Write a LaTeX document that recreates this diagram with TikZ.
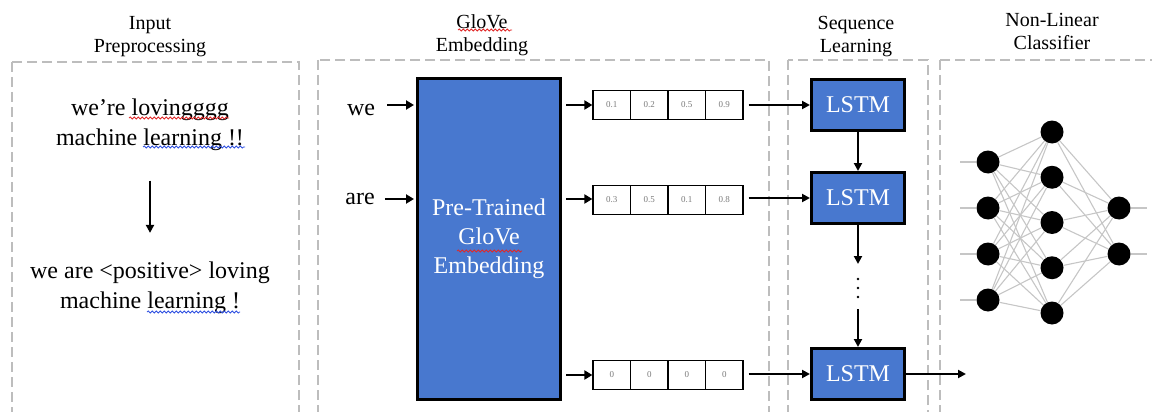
\documentclass[tikz,border=0pt]{standalone}
\usepackage{fontspec}
\setmainfont{Liberation Serif}
\usetikzlibrary{arrows.meta,decorations.pathmorphing}
\definecolor{boxblue}{HTML}{4878CF}
\definecolor{dashgray}{HTML}{BDBDBD}
\definecolor{nngray}{HTML}{C6C6C6}
\definecolor{valgray}{HTML}{7A7A7A}
\definecolor{squigred}{HTML}{E02828}
\definecolor{squigblue}{HTML}{2E4FE0}
\begin{document}
\begin{tikzpicture}[x=1pt,y=-1pt,
  panel/.style={draw=dashgray,line width=1.4pt,dash pattern=on 10pt off 5pt},
  title/.style={font=\fontsize{20}{23}\selectfont,align=center,inner sep=0pt},
  body/.style={font=\fontsize{24}{30}\selectfont,align=center,inner sep=0pt},
  word/.style={font=\fontsize{24}{30}\selectfont,inner sep=0pt},
  bigbox/.style={draw=black,line width=3pt,fill=boxblue,text=white,
    minimum width=143pt,minimum height=320pt,align=center,
    font=\fontsize{24}{29}\selectfont},
  lstm/.style={draw=black,line width=3pt,fill=boxblue,text=white,
    minimum width=93pt,minimum height=51pt,font=\fontsize{24}{29}\selectfont},
  cell/.style={draw=black,line width=1.2pt,minimum width=37.5pt,minimum height=29pt,
    inner sep=0pt,text=valgray,font=\fontsize{9}{10}\selectfont},
  inarrow/.style={line width=2.6pt,-{Triangle[length=8pt,width=9pt]}},
  midarrow/.style={line width=2pt,-{Triangle[length=8pt,width=8pt]}},
  neuron/.style={circle,fill=black,minimum size=23pt,inner sep=0pt},
  nnedge/.style={draw=nngray,line width=1.1pt},
  squig/.style={draw=#1,line width=0.8pt,decorate,
    decoration={snake,amplitude=1pt,segment length=4pt}}
]
\useasboundingbox (0,0) rectangle (1152,412);
\begin{scope}
\clip (0,0) rectangle (1152,412);
\draw[panel] (12,62) rectangle (299,440);
\draw[panel] (318,60) rectangle (769,440);
\draw[panel] (788,60) rectangle (928,440);
\draw[panel] (940,60) rectangle (1180,440);
\end{scope}

% titles
\node[title] (t1) at (150,37) {Input\\Preprocessing};
\node[title] (t2) at (482,35.6) {GloVe\\Embedding};
\node[title] (t3) at (856,37) {Sequence\\Learning};
\node[title] (t4) at (1052,31) {Non-Linear\\Classifier};

% preprocessing
\node[body] (src) at (150,124.5) {we’re lovingggg\\machine learning !!};
\node[body] (dst) at (150,288) {we are <positive> loving\\machine learning !};
\draw[midarrow,shorten <=30pt,shorten >=29pt] (src.south) -- (dst.north);

% rows
\coordinate (r1) at (0,105);
\coordinate (r2) at (0,199);
\coordinate (r3) at (0,375);

% embedding
\node[bigbox] (emb) at (489,239) {Pre-Trained\\GloVe\\Embedding};
\node[word,anchor=base] (we) at (361,116) {we};
\node[word,anchor=base] (are) at (360,204) {are};
\draw[inarrow,shorten <=12pt,shorten >=2pt] (we.east |- r1) -- (emb.west |- r1);
\draw[inarrow,shorten <=10pt,shorten >=2pt] (are.east |- r2) -- (emb.west |- r2);

% vectors
\foreach \r/\yy/\va/\vb/\vc/\vd in {1/105/0.1/0.2/0.5/0.9, 2/200/0.3/0.5/0.1/0.8, 3/375/0/0/0/0} {
  \foreach \vv [count=\i] in {\va,\vb,\vc,\vd}
    \node[cell] (v\r-\i) at (593+37.5*\i-18.75,\yy) {\vv};
}
\draw[inarrow,shorten <=4pt] (emb.east |- r1) -- (v1-1.west |- r1);
\draw[inarrow,shorten <=4pt] (emb.east |- r2) -- (v2-1.west |- r2);
\draw[inarrow,shorten <=4pt] (emb.east |- r3) -- (v3-1.west |- r3);

% LSTM
\node[lstm] (l1) at (858,105) {LSTM};
\node[lstm] (l2) at (858,198) {LSTM};
\node[lstm] (l3) at (858,374) {LSTM};
\draw[midarrow,shorten <=5pt] (v1-4.east |- l1) -- (l1.west);
\draw[midarrow,shorten <=5pt] (v2-4.east |- l2) -- (l2.west);
\draw[midarrow,shorten <=5pt] (v3-4.east |- l3) -- (l3.west);
\draw[midarrow] (l1.south) -- (l2.north);
\coordinate (dtop) at (858,264);
\coordinate (dbot) at (858,309);
\draw[midarrow] (l2.south) -- (dtop);
\draw[midarrow] (dbot) -- (l3.north);
\foreach \yy in {279,288,297} \fill (858,\yy) circle (1.3pt);
\coordinate (out) at (966,374);
\draw[midarrow] (l3.east) -- (out);

% neural network
\foreach \yy [count=\i] in {162,208,254,300} {
  \node[neuron] (in\i) at (988,\yy) {};
  \coordinate (s\i) at (960,\yy);
}
\foreach \yy [count=\i] in {132,177.25,222.5,267.75,313} \node[neuron] (h\i) at (1052,\yy) {};
\foreach \yy [count=\i] in {208,254} {
  \node[neuron] (o\i) at (1119,\yy) {};
  \coordinate (e\i) at (1147,\yy);
}
\foreach \i in {1,...,4} {
  \draw[nnedge] (s\i) -- (in\i);
  \foreach \j in {1,...,5} \draw[nnedge] (in\i) -- (h\j);
}
\foreach \j in {1,...,5} \foreach \k in {1,2} \draw[nnedge] (h\j) -- (o\k);
\foreach \k in {1,2} \draw[nnedge] (o\k) -- (e\k);

% spell-check underlines
\draw[squig=squigred] (129,118) -- (229,118);
\draw[squig=squigblue] (143,147) -- (245,147);
\draw[squig=squigblue] (147,312) -- (240,312);
\draw[squig=squigred] (458,30) -- (512,30);
\draw[squig=squigred] (457,251) -- (522,251);
\end{tikzpicture}
\end{document}
